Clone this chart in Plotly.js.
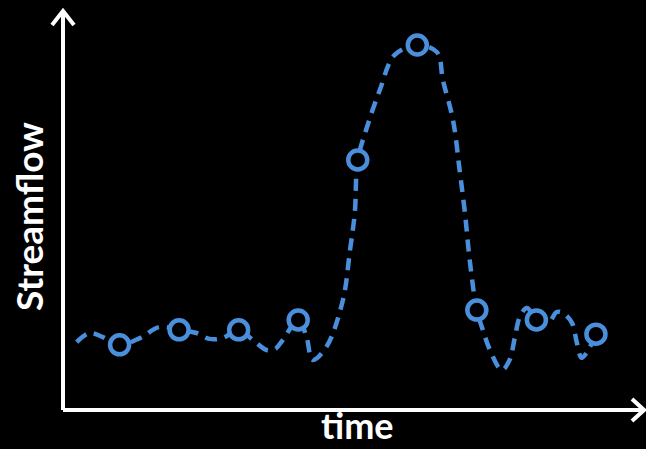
<!DOCTYPE html>
<html>
<head>
<meta charset="utf-8">
<script src="https://cdn.plot.ly/plotly-3.0.1.min.js"></script>
<style>html,body{margin:0;padding:0;background:#000;}#chart{width:646px;height:449px;}</style>
</head>
<body>
<div id="chart"></div>
<script>
// Smooth streamflow curve (time in steps, flow in arbitrary units)
const curveTime = [0.28,0.50,0.71,1.00,1.34,1.67,2.00,2.29,2.51,2.73,3.00,3.24,3.47,3.61,3.74,4.00,4.14,4.24,4.47,4.75,4.87,4.95,5.00,5.14,5.37,5.62,6.00,6.33,6.43,6.60,6.71,6.80,6.88,7.00,7.10,7.22,7.42,7.55,7.64,7.72,7.84,8.00,8.19,8.34,8.44,8.60,8.68,8.76,8.87,9.00];
const curveFlow = [17.2,19.5,18.5,16.5,18.2,21.0,20.3,19.5,18.0,18.2,20.3,17.7,15.2,15.4,17.7,22.8,18.5,12.7,15.9,27.8,40.5,49.9,63.3,70.9,81.0,89.9,92.4,90.6,83.5,73.4,60.8,49.9,38.0,25.3,20.3,15.2,10.1,12.7,18.5,23.5,25.8,22.8,21.8,24.8,24.6,22.0,17.0,13.2,15.2,19.2];
// Sampled observations
const obsTime = [1,2,3,4,5,6,7,8,9];
const obsFlow = [16.5,20.3,20.3,22.8,63.3,92.4,25.3,22.8,19.2];
const xLabel = "time";
const yLabel = "Streamflow";

const blue = "#4a8fdc";
const W = 646, H = 449, mL = 63, mR = 6, mT = 15, mB = 39;
const pw = W - mL - mR, ph = H - mT - mB;
const px = v => (v - mL) / pw;
const py = v => (H - mB - v) / ph;

const traces = [
  {x: curveTime, y: curveFlow, type: "scatter", mode: "lines",
   line: {color: blue, width: 4.5, dash: "12px,8px", shape: "spline", smoothing: 1}, hoverinfo: "skip"},
  {x: obsTime, y: obsFlow, type: "scatter", mode: "markers",
   marker: {symbol: "circle", size: 19, color: "#000", line: {color: blue, width: 4.5}}}
];

const white = {color: "#fff", width: 4};
const layout = {
  width: W, height: H,
  paper_bgcolor: "#000", plot_bgcolor: "#000",
  margin: {l: mL, r: mR, t: mT, b: mB},
  showlegend: false,
  xaxis: {range: [0.05, 9.74], showgrid: false, zeroline: false, showticklabels: false, ticks: "", showline: false},
  yaxis: {range: [0, 100], showgrid: false, zeroline: false, showticklabels: false, ticks: "", showline: false},
  shapes: [
    {type: "line", xref: "paper", yref: "paper", x0: px(63), y0: py(410), x1: px(63), y1: py(12), line: white},
    {type: "line", xref: "paper", yref: "paper", x0: px(63), y0: py(410), x1: px(643), y1: py(410), line: white},
    {type: "path", xref: "paper", yref: "paper", line: white,
     path: `M${px(52)},${py(25)} L${px(63)},${py(11)} L${px(74)},${py(25)}`},
    {type: "path", xref: "paper", yref: "paper", line: white,
     path: `M${px(632)},${py(399)} L${px(644)},${py(410)} L${px(632)},${py(421)}`}
  ],
  annotations: [
    {text: yLabel, xref: "paper", yref: "paper", x: px(28), y: py(217), showarrow: false, textangle: -90,
     xanchor: "center", yanchor: "middle", font: {family: "Lato", size: 37, color: "#fff", weight: "bold"}},
    {text: xLabel, xref: "paper", yref: "paper", x: px(357), y: py(448), showarrow: false,
     xanchor: "center", yanchor: "bottom", borderpad: 0, font: {family: "Lato", size: 36, color: "#fff", weight: "bold"}}
  ]
};
Plotly.newPlot("chart", traces, layout, {displayModeBar: false, staticPlot: true});
</script>
</body>
</html>
